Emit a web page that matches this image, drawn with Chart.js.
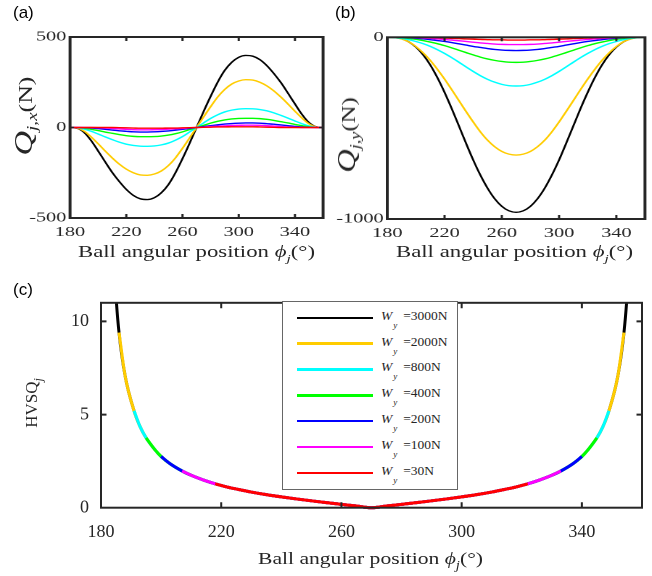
<!DOCTYPE html>
<html><head><meta charset="utf-8">
<script src="https://cdn.jsdelivr.net/npm/chart.js@4/dist/chart.umd.min.js"></script>
<style>
html,body{margin:0;padding:0;background:#fff;}
#root{position:relative;width:652px;height:576px;overflow:hidden;font-family:"Liberation Serif",serif;color:#262626;}
.abs{position:absolute;white-space:nowrap;line-height:normal;}
.wrap{position:absolute;transform-origin:0 0;}
.sb{font-size:0.68em;position:relative;top:0.35em;font-style:italic;}
.pl{font-family:"Liberation Sans",Arial,sans-serif;font-size:17px;color:#000;}
.rot{transform:translate(-50%,-50%) rotate(-90deg);}
#legend{position:absolute;left:282px;top:301px;width:176px;height:189px;border:1.5px solid #666;box-sizing:border-box;background:#fff;}
</style></head><body><div id="root">
<div class="wrap" style="left:0;top:0;transform:scaleX(1.45)"><canvas id="ca" width="228" height="280"></canvas></div>
<div class="wrap" style="left:330px;top:0;transform:scaleX(1.45)"><canvas id="cb" width="222" height="280"></canvas></div>
<div class="wrap" style="left:0;top:280px;"><canvas id="cc" width="652" height="296"></canvas></div>

<div class="abs pl" style="left:13px;top:3px">(a)</div>
<div class="abs pl" style="left:335px;top:3px">(b)</div>
<div class="abs pl" style="left:13px;top:280px">(c)</div>

<div class="abs" style="left:24px;top:116px;font-size:19px;transform:translate(-50%,-50%) rotate(-90deg) scaleX(1.36)"><i style="font-size:25px">Q</i><span class="sb" style="font-size:14px;top:5px">j,x</span>(N)</div>
<div class="abs" style="left:347px;top:135px;font-size:19px;transform:translate(-50%,-50%) rotate(-90deg) scaleX(1.3)"><i style="font-size:25px">Q</i><span class="sb" style="font-size:14px;top:5px">j,y</span>(N)</div>
<div class="abs rot" style="left:32px;top:403px;font-size:17px">HVSQ<span class="sb" style="font-size:12px;top:5px">j</span></div>

<div class="abs xl" data-cx="196.7" data-w="237" style="top:243px;font-size:16px">Ball angular position <i>ϕ</i><span class="sb" style="top:5px">j</span>(°)</div>
<div class="abs xl" data-cx="514.7" data-w="237" style="top:243px;font-size:16px">Ball angular position <i>ϕ</i><span class="sb" style="top:5px">j</span>(°)</div>
<div class="abs xl" data-cx="370.8" data-w="225" style="top:548px;font-size:17.5px">Ball angular position <i>ϕ</i><span class="sb" style="top:5px">j</span>(°)</div>

<div id="legend"></div>
</div>
<script>
// ---- data ----
const angles = [180,185,190,195,200,205,210,215,220,225,230,235,240,245,250,255,260,265,270,275,280,285,290,295,300,305,310,315,320,325,330,335,340,345,350,355,360];
const loadLabels = ['3000N','2000N','800N','400N','200N','100N','30N'];
const seriesColors = ['#000000','#FFCC00','#00FFFF','#00FF00','#0000FF','#FF00FF','#FF0000'];

const blackQx   = [0,-4,-27,-72,-130,-190,-248,-298,-342,-375,-394,-398,-388,-360,-315,-250,-172,-88,0,88,172,250,315,360,388,398,394,375,342,298,248,190,130,72,27,4,0];
const yellowQx  = [0,-3,-20,-52,-90,-130,-168,-202,-230,-250,-262,-264,-257,-240,-210,-168,-115,-58,0,58,115,168,210,240,257,264,262,250,230,202,168,130,90,52,20,3,0];
const cyanQx    = [0,-2,-9,-21,-36,-52,-67,-81,-92,-99,-103,-104,-102,-96,-86,-70,-50,-25,0,25,50,70,86,96,102,104,103,99,92,81,67,52,36,21,9,2,0];
const greenQx   = [0,-1,-4,-10,-17,-25,-32,-39,-45,-49,-51,-51,-50,-47,-42,-34,-24,-12,0,12,24,34,42,47,50,51,51,49,45,39,32,25,17,10,4,1,0];
const blueQx    = [0,0,-1,-3,-6,-10,-14,-18,-21,-24,-25,-25,-24,-22,-19,-15,-10,-5,0,5,10,15,19,22,24,25,25,24,21,18,14,10,6,3,1,0,0];
const magentaQx = [0,0,0,0,-1,-3,-5,-8,-10,-12,-13,-13,-12,-11,-9,-7,-5,-2,0,2,5,7,9,11,12,13,13,12,10,8,5,3,1,0,0,0,0];
const redQx     = [0,0,0,0,0,0,0,-1,-2,-3,-4,-4,-4,-4,-3,-3,-2,-1,0,1,2,3,3,4,4,4,4,3,2,1,0,0,0,0,0,0,0];

const blackQy   = [0,-1,-8,-25,-54,-96,-152,-222,-303,-392,-487,-583,-675,-758,-830,-888,-930,-955,-963,-955,-930,-888,-830,-758,-675,-583,-487,-392,-303,-222,-152,-96,-54,-25,-8,-1,0];
const yellowQy  = [0,-2,-9,-25,-51,-85,-127,-176,-230,-288,-348,-408,-466,-520,-566,-602,-628,-643,-648,-643,-628,-602,-566,-520,-466,-408,-348,-288,-230,-176,-127,-85,-51,-25,-9,-2,0];
const cyanQy    = [0,-2,-6,-13,-23,-35,-50,-68,-89,-112,-137,-163,-188,-211,-231,-247,-259,-266,-268,-266,-259,-247,-231,-211,-188,-163,-137,-112,-89,-68,-50,-35,-23,-13,-6,-2,0];
const greenQy   = [0,0,-2,-6,-11,-18,-26,-35,-46,-58,-71,-84,-97,-109,-119,-127,-133,-137,-138,-137,-133,-127,-119,-109,-97,-84,-71,-58,-46,-35,-26,-18,-11,-6,-2,0,0];
const blueQy    = [0,0,0,-2,-5,-8,-13,-18,-23,-29,-36,-43,-50,-56,-62,-67,-70,-72,-73,-72,-70,-67,-62,-56,-50,-43,-36,-29,-23,-18,-13,-8,-5,-2,0,0,0];
const magentaQy = [0,0,0,-1,-2,-4,-6,-9,-12,-15,-19,-23,-27,-31,-34,-37,-39,-40,-40,-40,-39,-37,-34,-31,-27,-23,-19,-15,-12,-9,-6,-4,-2,-1,0,0,0];
const redQy     = [0,0,0,0,0,-1,-2,-3,-4,-6,-7,-9,-10,-12,-13,-14,-14,-15,-15,-15,-14,-14,-13,-12,-10,-9,-7,-6,-4,-3,-2,-1,0,0,0,0,0];

const hvsqAngles = [184,185,186,188,191,193,195,198,200,203,207,210,214,218,222,226,230,235,240,245,250,255,260,265,270,275,280,285,290,295,300,305,310,314,318,322,326,330,333,337,340,342,345,347,349,352,354,355,356];
const hvsqValues = [14.0,11.3,9.4,7.1,5.2,4.35,3.75,3.1,2.75,2.36,1.97,1.74,1.49,1.28,1.11,0.97,0.84,0.70,0.58,0.47,0.37,0.27,0.18,0.09,0,0.09,0.18,0.27,0.37,0.47,0.58,0.70,0.84,0.97,1.11,1.28,1.49,1.74,1.97,2.36,2.75,3.1,3.75,4.35,5.2,7.1,9.4,11.3,14.0];
const zoneStart = [184,186,191,195,200,207,218];
const zoneEnd   = [356,354,349,345,340,333,322];

const xTicksAB = [180,220,260,300,340];
const yTicksA = [-500,0,500];
const yTicksB = [-1000,0];
const xTicksC = [180,220,260,300,340];
const yTicksC = [0,5,10];

// ---- chart helpers ----
const AX = '#262626';
const boxPlugin = {
  id:'boxTicks',
  afterDatasetsDraw(chart, args, o){
    const {ctx, chartArea:a, scales:{x,y}} = chart;
    ctx.save();
    ctx.strokeStyle = AX;
    ctx.lineWidth = o.tw;
    ctx.beginPath();
    x.ticks.forEach(t=>{const p=x.getPixelForValue(t.value); if(p<=a.left+1||p>=a.right-1) return;
      ctx.moveTo(p,a.bottom); ctx.lineTo(p,a.bottom-o.tlx); ctx.moveTo(p,a.top); ctx.lineTo(p,a.top+o.tlx);});
    y.ticks.forEach(t=>{const p=y.getPixelForValue(t.value); if(p<=a.top+1||p>=a.bottom-1) return;
      ctx.moveTo(a.left,p); ctx.lineTo(a.left+o.tly,p); ctx.moveTo(a.right,p); ctx.lineTo(a.right-o.tly,p);});
    ctx.stroke();
    ctx.lineWidth = o.lw;
    ctx.strokeRect(a.left,a.top,a.right-a.left,a.bottom-a.top);
    ctx.restore();
  }
};

function makeOptions(c){
  const tickFont = {family:'Liberation Serif', size:c.fs};
  return {
    responsive:false, animation:false, devicePixelRatio:2, events:[],
    layout:{padding:{left:0,top:c.top,right:c.right,bottom:0}},
    plugins:{legend:{display:false}, tooltip:{enabled:false}, boxTicks:{lw:c.lw,tw:c.tw,tlx:c.tlx,tly:c.tly}},
    scales:{
      x:{type:'linear', min:c.xmin, max:c.xmax,
         afterBuildTicks:s=>{s.ticks=c.xticks.map(v=>({value:v}));},
         afterFit:s=>{s.height=c.xh;},
         grid:{display:false, drawTicks:false}, border:{display:false},
         ticks:{font:tickFont, color:AX, padding:c.xpad, maxRotation:0, autoSkip:false, callback:v=>String(v)}},
      y:{type:'linear', min:c.ymin, max:c.ymax,
         afterBuildTicks:s=>{s.ticks=c.yticks.map(v=>({value:v}));},
         afterFit:s=>{s.width=c.yw;},
         grid:{display:false, drawTicks:false}, border:{display:false},
         ticks:{font:tickFont, color:AX, padding:c.ypad, autoSkip:false, callback:v=>String(v)}}
    }
  };
}

function lineSets(seriesList, width){
  return seriesList.map((arr,i)=>({
    data: angles.map((a,k)=>({x:a,y:arr[k]})),
    borderColor: seriesColors[i], borderWidth: width, pointRadius:0, fill:false,
    cubicInterpolationMode:'monotone'
  })).reverse();
}

const qxSeries = [blackQx,yellowQx,cyanQx,greenQx,blueQx,magentaQx,redQx];
const qySeries = [blackQy,yellowQy,cyanQy,greenQy,blueQy,magentaQy,redQy];

new Chart(document.getElementById('ca'), {
  type:'line', data:{datasets:lineSets(qxSeries,1.4)}, plugins:[boxPlugin],
  options: makeOptions({top:37,right:5.2,xh:62,yw:48.3,xmin:180,xmax:360,ymin:-500,ymax:500,
    xticks:xTicksAB,yticks:yTicksA,fs:14,xpad:6,ypad:2.5,lw:2,tw:1.5,tlx:4,tly:2.8})
});
new Chart(document.getElementById('cb'), {
  type:'line', data:{datasets:lineSets(qySeries,1.4)}, plugins:[boxPlugin],
  options: makeOptions({top:37.3,right:4.8,xh:61,yw:39.5,xmin:180,xmax:360,ymin:-1000,ymax:0,
    xticks:xTicksAB,yticks:yTicksB,fs:14,xpad:6,ypad:2.5,lw:2,tw:1.5,tlx:4,tly:2.8})
});

const hvSets = seriesColors.map((col,i)=>({
  data: hvsqAngles.map((a,k)=>({x:a,y:hvsqValues[k]})).filter(p=>p.x>=zoneStart[i]&&p.x<=zoneEnd[i]),
  borderColor: col, borderWidth:3, pointRadius:0, fill:false, cubicInterpolationMode:'monotone',
  clip:{left:0,top:0,right:0,bottom:4}
})).reverse();
new Chart(document.getElementById('cc'), {
  type:'line', data:{datasets:hvSets}, plugins:[boxPlugin],
  options: makeOptions({top:12.7,right:10,xh:68.3,yw:101,xmin:180,xmax:360,ymin:0,ymax:11,
    xticks:xTicksC,yticks:yTicksC,fs:18,xpad:14,ypad:12,lw:2,tw:2,tlx:5.5,tly:5.5})
});

// ---- legend (panel c) ----
const lg = document.getElementById('legend');
loadLabels.forEach((lab,i)=>{
  const cy = 318.3 + 25.83*i - 302.5;
  const ln = document.createElement('div');
  ln.style.cssText = `position:absolute;left:14px;top:${cy-1.25}px;width:76px;height:2.5px;background:${seriesColors[i]}`;
  lg.appendChild(ln);
  const tx = document.createElement('div');
  tx.className='abs';
  tx.style.cssText += `left:98px;top:${cy-10}px;font-size:13.5px;color:#262626`;
  tx.innerHTML = `<i>W</i><span style="font-style:italic;font-size:9px;position:relative;top:8px;margin:0 6px 0 1px">y</span>=${lab}`;
  lg.appendChild(tx);
});

// ---- fit x-label widths ----
document.querySelectorAll('.xl').forEach(el=>{
  const w = parseFloat(el.dataset.w), cx = parseFloat(el.dataset.cx);
  const nw = el.getBoundingClientRect().width;
  el.style.transformOrigin = '0 0';
  el.style.transform = `scaleX(${w/nw})`;
  el.style.left = (cx - w/2) + 'px';
});
</script>
</body></html>
